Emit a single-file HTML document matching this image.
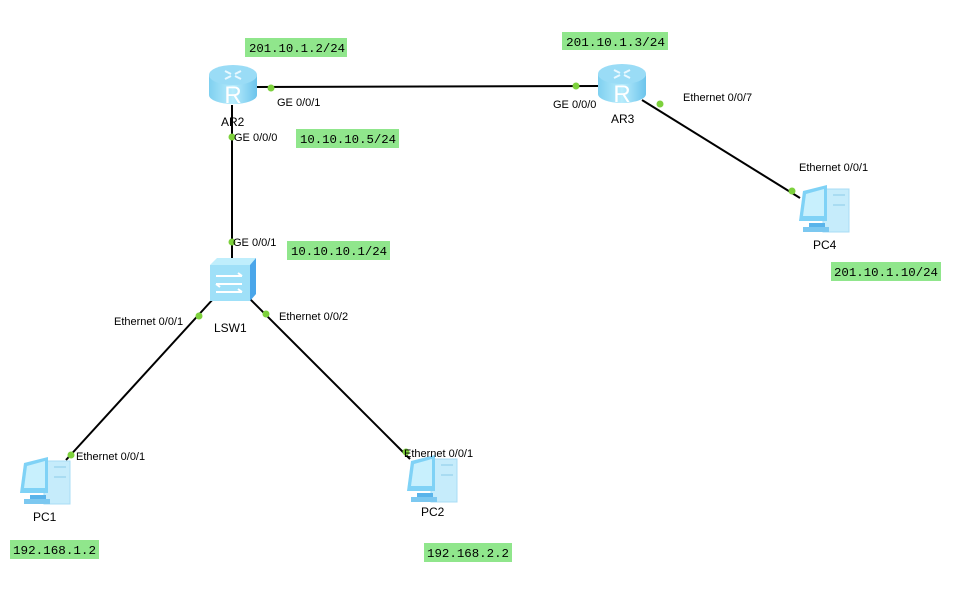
<!DOCTYPE html>
<html><head><meta charset="utf-8"><style>
html,body{margin:0;padding:0;background:#fff;width:964px;height:609px;overflow:hidden}
svg{display:block}
.l{font-family:"Liberation Sans",sans-serif;font-size:11px;fill:#000}
.n{font-family:"Liberation Sans",sans-serif;font-size:12px;fill:#000}
.m{font-family:"Liberation Mono",monospace;font-size:12px;fill:#000}
</style></head><body>
<svg width="964" height="609" viewBox="0 0 964 609" xmlns="http://www.w3.org/2000/svg">
<defs>
<linearGradient id="rg" x1="0" x2="1" y1="0" y2="0">
<stop offset="0" stop-color="#7fd0f0"/><stop offset="0.5" stop-color="#b8ecfc"/><stop offset="1" stop-color="#6cc4ec"/></linearGradient>
<g id="router">
<path d="M0 12 L0 32 A24 9 0 0 0 48 32 L48 12 Z" fill="url(#rg)"/>
<ellipse cx="24" cy="12" rx="24" ry="10" fill="#9adcf6"/>
<path d="M16 8 l6 3 M32 8 l-6 3 M16 16 l6 -3 M32 16 l-6 -3" stroke="#e8f8ff" stroke-width="2"/>
<text x="24" y="40" font-family="Liberation Sans,sans-serif" font-size="24" fill="#fff" text-anchor="middle">R</text>
</g>
<g id="pc">
<rect x="26" y="4" width="26" height="43" fill="#c6ecfb" stroke="#a8dcf4"/>
<line x1="36" y1="10" x2="48" y2="10" stroke="#8ccbe8"/><line x1="36" y1="20" x2="48" y2="20" stroke="#8ccbe8"/>
<path d="M6 6 L30 0 L30 36 L2 36 Z" fill="#7fd2f6"/>
<path d="M9 9 L27 4 L27 31 L6 31 Z" fill="#c8f0fd"/>
<rect x="12" y="38" width="16" height="4" fill="#5ab4ea"/>
<rect x="6" y="42" width="26" height="5" fill="#7cc8f0"/>
</g>
</defs>
<g stroke="#000" stroke-width="2">
<line x1="255" y1="87" x2="600" y2="86"/>
<line x1="232" y1="105" x2="232" y2="262"/>
<line x1="214" y1="298" x2="66" y2="460"/>
<line x1="248" y1="297" x2="410" y2="459"/>
<line x1="642" y1="100" x2="800" y2="198"/>
</g>
<use href="#router" x="209" y="63"/>
<use href="#router" x="598" y="62"/>
<path d="M210 265 L217 258 L256 258 L250 265 Z" fill="#bfeefc"/>
<path d="M250 265 L256 258 L256 294 L250 301 Z" fill="#4aa6ea"/>
<rect x="210" y="265" width="40" height="36" fill="#9fe0f8"/>
<path d="M216 276 h26 M242 276 l-4 -3 M216 284 h26 M216 284 l4 3 M216 292 h26 M242 292 l-4 -3" stroke="#fff" stroke-width="2" fill="none"/>
<use href="#pc" x="18" y="457"/>
<use href="#pc" x="405" y="455"/>
<use href="#pc" x="797" y="185"/>
<g fill="#7dd13c">
<circle cx="271" cy="88" r="3.5"/><circle cx="576" cy="86" r="3.5"/>
<circle cx="232" cy="137" r="3.5"/><circle cx="232" cy="242" r="3.5"/>
<circle cx="199" cy="316" r="3.5"/><circle cx="266" cy="314" r="3.5"/>
<circle cx="71" cy="455" r="3.5"/><circle cx="406" cy="452" r="3.5"/>
<circle cx="660" cy="104" r="3.5"/><circle cx="792" cy="191" r="3.5"/>
</g>
<g fill="#90e68c">
<rect x="245" y="38" width="102" height="19"/>
<rect x="562" y="32" width="106" height="18"/>
<rect x="296" y="129" width="103" height="19"/>
<rect x="287" y="241" width="103" height="19"/>
<rect x="831" y="262" width="110" height="19"/>
<rect x="10" y="540" width="89" height="19"/>
<rect x="424" y="543" width="88" height="19"/>
</g>
<text class="m" x="249" y="52" textLength="96" lengthAdjust="spacingAndGlyphs">201.10.1.2/24</text>
<text class="m" x="566" y="46" textLength="99" lengthAdjust="spacingAndGlyphs">201.10.1.3/24</text>
<text class="m" x="300" y="143" textLength="96" lengthAdjust="spacingAndGlyphs">10.10.10.5/24</text>
<text class="m" x="291" y="255" textLength="96" lengthAdjust="spacingAndGlyphs">10.10.10.1/24</text>
<text class="m" x="834" y="276" textLength="104" lengthAdjust="spacingAndGlyphs">201.10.1.10/24</text>
<text class="m" x="13" y="554" textLength="83" lengthAdjust="spacingAndGlyphs">192.168.1.2</text>
<text class="m" x="427" y="557" textLength="82" lengthAdjust="spacingAndGlyphs">192.168.2.2</text>
<text class="l" x="277" y="106">GE 0/0/1</text>
<text class="l" x="553" y="108">GE 0/0/0</text>
<text class="l" x="234" y="141">GE 0/0/0</text>
<text class="l" x="233" y="246">GE 0/0/1</text>
<text class="l" x="114" y="325">Ethernet 0/0/1</text>
<text class="l" x="279" y="320">Ethernet 0/0/2</text>
<text class="l" x="76" y="460">Ethernet 0/0/1</text>
<text class="l" x="404" y="457">Ethernet 0/0/1</text>
<text class="l" x="683" y="101">Ethernet 0/0/7</text>
<text class="l" x="799" y="171">Ethernet 0/0/1</text>
<text class="n" x="221" y="126">AR2</text>
<text class="n" x="611" y="123">AR3</text>
<text class="n" x="214" y="332">LSW1</text>
<text class="n" x="33" y="521">PC1</text>
<text class="n" x="421" y="516">PC2</text>
<text class="n" x="813" y="249">PC4</text>
</svg>
</body></html>
